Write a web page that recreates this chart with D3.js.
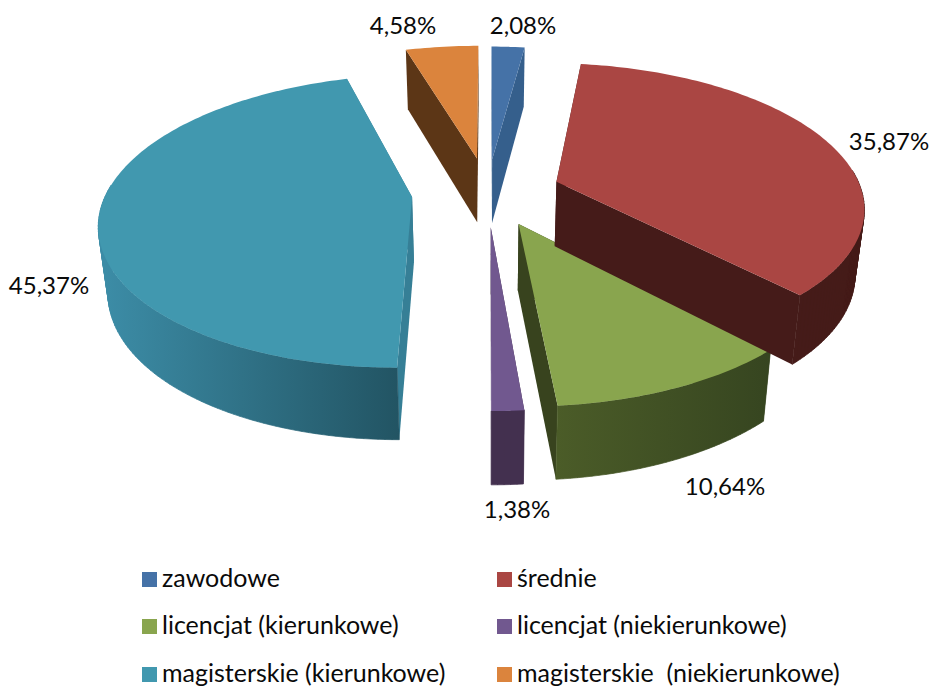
<!DOCTYPE html>
<html lang="pl">
<head>
  <meta charset="UTF-8" />
  <title>Wykształcenie</title>
  <script src="https://d3js.org/d3.v7.min.js"></script>
  <style>
    body { margin: 0; background: #fff; }
    svg { display: block; }
    text { font-family: Lato, sans-serif; fill: #0a0a0a; }
  </style>
</head>
<body>
<svg id="chart" width="931" height="688"></svg>
<script>
  const categories = ["zawodowe", "średnie", "licencjat (kierunkowe)", "licencjat (niekierunkowe)", "magisterskie (kierunkowe)", "magisterskie  (niekierunkowe)"];
  const values = [2.08, 35.87, 10.64, 1.38, 45.37, 4.58];
  const valueLabels = ["2,08%", "35,87%", "10,64%", "1,38%", "45,37%", "4,58%"];

  const topColors = ["#4572a7", "#aa4643", "#89a54e", "#71588f", "#4198af", "#db843d"];
  const cutColors = ["#355f8c", "#451b19", "#38431e", "#43304f", "#367f96", "#5c3616"];
  const wallColors = ["#355f8c", "#451b19", "url(#wall2)", "#43304f", "url(#wall4)", "#5c3616"];

  // label anchors, text middle / baseline
  const labelX = [523, 889, 725, 517, 49, 403];
  const labelY = [34, 150, 495, 518, 294, 34];

  // green goes before red, the red wall sits over it in the original
  const drawOrder = [0, 5, 3, 2, 1, 4];

  const explode = [0.24, 0.24, 0.24, 0.24, 0.248, 0.25];
  const cx = 487.5, cy = 192, rx = 305.5, ry = 141, persp = 0.163;
  const x = d3.scaleLinear().domain([-1, 1]).range([cx - rx, cx + rx]);
  const y = d3.scaleLinear().domain([-1, 1]).range([cy + ry, cy - ry]);

  const svg = d3.select("#chart");
  const defs = svg.append("defs");

  function gradient(id, x1, x2, c1, c2) {
    const g = defs.append("linearGradient").attr("id", id)
      .attr("gradientUnits", "userSpaceOnUse")
      .attr("x1", x1).attr("x2", x2).attr("y1", 0).attr("y2", 0);
    g.append("stop").attr("offset", 0).attr("stop-color", c1);
    g.append("stop").attr("offset", 1).attr("stop-color", c2);
  }
  gradient("wall2", 556, 770, "#4b5c28", "#364520");
  gradient("wall4", 105, 400, "#3c8ca6", "#225463");

  const pie = d3.pie().sort(null).startAngle(0).endAngle(2 * Math.PI);
  const arcs = pie(values);
  const line = d3.line();

  function project(u, v) {
    const s = 1 / (1 + persp * v);
    return [x(u * s), y(v * s)];
  }
  // the underside: a bit narrower and pushed down
  function lower(p) {
    return [cx + (p[0] - cx) * 0.975, p[1] + 65 + 0.04 * (p[1] - cy)];
  }
  // all quads wound the same way so the path fills as a plain union
  function quad(a, b) {
    const q = [a, b, lower(b), lower(a)];
    return line(d3.polygonArea(q) < 0 ? q.reverse() : q) + "Z";
  }

  const slices = svg.append("g");
  drawOrder.forEach(i => {
    const a = arcs[i];
    const mid = (a.startAngle + a.endAngle) / 2;
    const ou = explode[i] * Math.sin(mid), ov = explode[i] * Math.cos(mid);
    const steps = Math.max(4, Math.ceil((a.endAngle - a.startAngle) / 0.02));
    const angles = d3.range(steps + 1).map(k => a.startAngle + (a.endAngle - a.startAngle) * k / steps);
    const rim = angles.map(t => project(ou + Math.sin(t), ov + Math.cos(t)));
    const apex = project(ou, ov);

    const g = slices.append("g");
    // cut walls
    [rim[0], rim[rim.length - 1]].forEach(p => {
      g.append("path").attr("d", quad(apex, p)).attr("fill", cutColors[i]);
    });
    // outer wall, front part only. thin stroke closes the seam with the cut wall
    const front = angles.map((t, k) => [t, rim[k]]).filter(d => Math.cos(d[0]) < 0.1).map(d => d[1]);
    if (front.length > 1) {
      g.append("path")
        .attr("d", d3.pairs(front).map(p => quad(p[0], p[1])).join(""))
        .attr("fill", wallColors[i])
        .attr("stroke", wallColors[i])
        .attr("stroke-width", 0.7);
    }
    // top
    g.append("path")
      .attr("d", line([apex].concat(rim)) + "Z")
      .attr("fill", topColors[i]);
  });

  svg.append("g").selectAll("text")
    .data(valueLabels)
    .enter().append("text")
    .attr("x", (d, i) => labelX[i])
    .attr("y", (d, i) => labelY[i])
    .attr("text-anchor", "middle")
    .attr("font-size", 24)
    .text(d => d);

  // legend: two columns, three rows
  const legendCol = d3.scaleOrdinal().domain([0, 1]).range([142, 497]);
  const legendRow = d3.scaleOrdinal().domain([0, 1, 2]).range([572, 619, 667]);
  const legend = svg.append("g").selectAll("g")
    .data(categories)
    .enter().append("g")
    .attr("transform", (d, i) => `translate(${legendCol(i % 2)},${legendRow(Math.floor(i / 2))})`);
  legend.append("rect").attr("width", 15).attr("height", 15).attr("fill", (d, i) => topColors[i]);
  legend.append("text").attr("x", 20).attr("y", 15).attr("font-size", 25)
    .attr("xml:space", "preserve").style("white-space", "pre").text(d => d);
</script>
</body>
</html>
